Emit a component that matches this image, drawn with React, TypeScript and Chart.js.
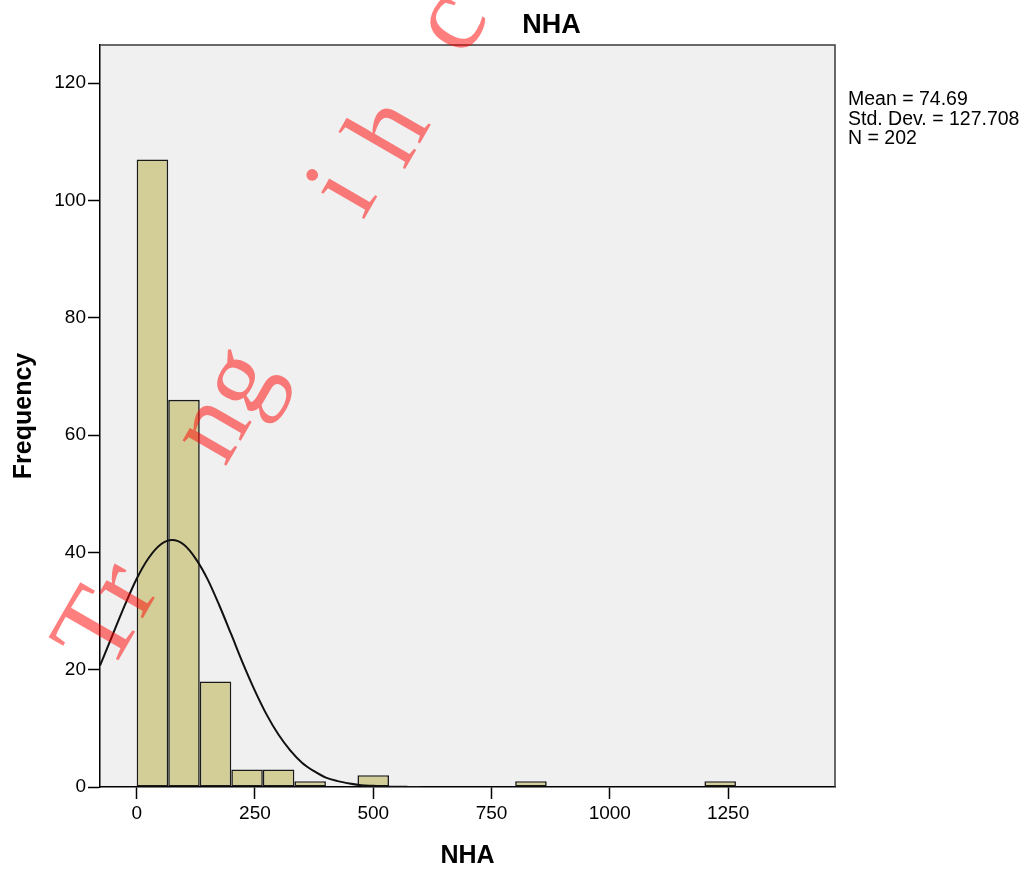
import React, { useEffect, useRef } from "react";
import { Chart, registerables } from "chart.js";

Chart.register(...registerables);

// Histogram bins (bin centres, width ≈ 66.67) and frequencies
const binCenters = [33.33, 100, 166.67, 233.33, 300, 366.67, 433.33, 500, 566.67, 633.33, 700, 766.67, 833.33, 900, 966.67, 1033.33, 1100, 1166.67, 1233.33];
const binCounts = [107, 66, 18, 3, 3, 1, 0, 2, 0, 0, 0, 0, 1, 0, 0, 0, 0, 0, 1];

// Normal curve points
const curveX = [-77.5, -50, -25, 0, 25, 50, 75, 100, 125, 150, 175, 200, 225, 250, 275, 300, 325, 350, 375, 400, 425, 450, 475, 500, 525, 550, 575, 600];
const curveY = [20.7, 26.1, 31.0, 35.5, 39.0, 41.3, 42.1, 41.3, 38.9, 35.4, 30.9, 26.0, 21.0, 16.4, 12.3, 8.9, 6.2, 4.1, 2.7, 1.6, 1.0, 0.6, 0.3, 0.2, 0.1, 0.04, 0.02, 0.01];

const xTicks = [0, 250, 500, 750, 1000, 1250];
const yTicks = [0, 20, 40, 60, 80, 100, 120];

const titleText = "NHA";
const xLabel = "NHA";
const yLabel = "Frequency";
const statsLines = ["Mean = 74.69", "Std. Dev. = 127.708", "N = 202"];

// Watermark pieces (decoration)
const watermarkPieces = [
  { text: "Tr", x: 110, y: 675 },
  { text: "ng", x: 225, y: 468 },
  { text: "i", x: 363, y: 221 },
  { text: "h", x: 404, y: 171 },
  { text: "c", x: 465, y: 59 },
];

const SANS = "'Liberation Sans', Arial, sans-serif";

const decorPlugin = {
  id: "decor",
  beforeDraw(chart: any) {
    const { ctx, chartArea } = chart;
    ctx.save();
    ctx.fillStyle = "#ffffff";
    ctx.fillRect(0, 0, chart.width, chart.height);
    ctx.fillStyle = "#f0f0f0";
    ctx.fillRect(chartArea.left, chartArea.top, chartArea.right - chartArea.left, chartArea.bottom - chartArea.top);
    ctx.restore();
  },
  afterDraw(chart: any) {
    const { ctx, chartArea } = chart;
    ctx.save();
    // top / right frame
    ctx.strokeStyle = "#3a3a3a";
    ctx.lineWidth = 1.5;
    ctx.beginPath();
    ctx.moveTo(chartArea.left, chartArea.top);
    ctx.lineTo(chartArea.right, chartArea.top);
    ctx.lineTo(chartArea.right, chartArea.bottom);
    ctx.stroke();

    ctx.fillStyle = "#000";
    // title
    ctx.font = `bold 27px ${SANS}`;
    ctx.textAlign = "center";
    ctx.textBaseline = "alphabetic";
    ctx.fillText(titleText, 551.5, 33);
    // x label
    ctx.font = `bold 25px ${SANS}`;
    ctx.fillText(xLabel, (chartArea.left + chartArea.right) / 2, 863);
    // y label
    ctx.save();
    ctx.translate(31, (chartArea.top + chartArea.bottom) / 2);
    ctx.rotate(-Math.PI / 2);
    ctx.fillText(yLabel, 0, 0);
    ctx.restore();
    // stats
    ctx.font = `19.5px ${SANS}`;
    ctx.textAlign = "left";
    statsLines.forEach((s, i) => ctx.fillText(s, 848, 105 + i * 19.5));

    // watermark
    ctx.fillStyle = "rgba(255,0,0,0.5)";
    ctx.font = `110px 'Liberation Serif', 'Times New Roman', serif`;
    ctx.textAlign = "left";
    ctx.textBaseline = "alphabetic";
    watermarkPieces.forEach((p) => {
      ctx.save();
      ctx.translate(p.x, p.y);
      ctx.rotate((-60 * Math.PI) / 180);
      ctx.fillText(p.text, 0, 0);
      ctx.restore();
    });
    ctx.restore();
  },
};

export default function App() {
  const canvasRef = useRef<HTMLCanvasElement | null>(null);

  useEffect(() => {
    if (!canvasRef.current) return;
    const chart = new Chart(canvasRef.current, {
      type: "bar",
      data: {
        datasets: [
          {
            type: "line",
            data: curveX.map((x, i) => ({ x, y: curveY[i] })),
            borderColor: "#111",
            borderWidth: 2,
            pointRadius: 0,
            fill: false,
            cubicInterpolationMode: "monotone",
            order: 0,
          } as any,
          {
            type: "bar",
            data: binCenters.map((x, i) => ({ x, y: binCounts[i] })),
            backgroundColor: "#d3ce97",
            borderColor: "#1a1a1a",
            borderWidth: 1.6,
            borderSkipped: false,
            inflateAmount: 0,
            barPercentage: 1,
            categoryPercentage: 1,
            order: 1,
          } as any,
        ],
      },
      options: {
        animation: false,
        responsive: false,
        maintainAspectRatio: false,
        layout: { padding: { left: 0, top: 45, right: 198, bottom: 0 } },
        plugins: {
          legend: { display: false },
          tooltip: { enabled: false },
          title: { display: false },
        },
        scales: {
          x: {
            type: "linear",
            min: -77.5,
            max: 1476,
            offset: false,
            afterBuildTicks: (s: any) => {
              s.ticks = xTicks.map((v) => ({ value: v }));
            },
            afterFit: (s: any) => {
              s.height = 86;
            },
            grid: {
              display: true,
              drawOnChartArea: false,
              drawTicks: true,
              tickLength: 12,
              tickColor: "#000",
              tickWidth: 1.5,
              offset: false,
            },
            border: { display: true, color: "#000", width: 1.5 },
            ticks: {
              color: "#000",
              font: { family: SANS, size: 19 },
              padding: 3,
              maxRotation: 0,
              autoSkip: false,
              callback: (v: any) => String(v),
            },
          },
          y: {
            type: "linear",
            min: 0,
            max: 126.5,
            afterBuildTicks: (s: any) => {
              s.ticks = yTicks.map((v) => ({ value: v }));
            },
            afterFit: (s: any) => {
              s.width = 100;
            },
            grid: {
              display: true,
              drawOnChartArea: false,
              drawTicks: true,
              tickLength: 12,
              tickColor: "#000",
              tickWidth: 1.5,
            },
            border: { display: true, color: "#000", width: 1.5 },
            ticks: {
              color: "#000",
              font: { family: SANS, size: 19 },
              padding: 2,
              autoSkip: false,
              callback: (v: any) => String(v),
            },
          },
        },
      } as any,
      plugins: [decorPlugin],
    });
    return () => chart.destroy();
  }, []);

  return (
    <div style={{ position: "absolute", left: 0, top: 0, width: 1033, height: 873 }}>
      <canvas ref={canvasRef} width={1033} height={873} style={{ width: 1033, height: 873, display: "block" }} />
    </div>
  );
}
